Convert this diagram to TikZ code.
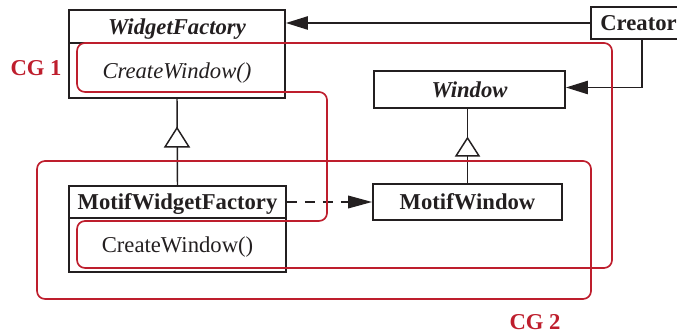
\documentclass[tikz,border=0pt]{standalone}
\usepackage{fontspec}
\setmainfont{Liberation Serif}
\usetikzlibrary{arrows.meta,calc}
\definecolor{cgred}{RGB}{190,30,45}
\definecolor{ink}{RGB}{35,31,32}
\newcommand\diafont{\fontsize{17}{20}\selectfont}
\begin{document}
\begin{tikzpicture}[x=0.75pt,y=-0.75pt,
  font=\diafont,
  box/.style={draw=ink,line width=1.4pt,inner sep=0pt,text=ink,
    text height=12.5pt,text depth=1.2pt},
  link/.style={draw=ink,line width=1.1pt},
  solidtip/.style={-{Triangle[length=16.5pt,width=10pt]}},
  dashtip/.style={-{Triangle[length=18pt,width=9.5pt]}},
  group/.style={draw=cgred,line width=1.25pt,rounded corners=6pt},
  grouplabel/.style={text=cgred,font=\diafont\bfseries}
]
\useasboundingbox (0,0) rectangle (677,334);

% classes
\node[box,minimum width=162pt,minimum height=24.75pt,font=\diafont\bfseries\itshape]
  (wf) at (177,26.5) {WidgetFactory};
\node[box,minimum width=162pt,minimum height=41.25pt,font=\diafont\itshape]
  (wfop) at (177,70.5) {CreateWindow()};
\node[box,minimum width=162.75pt,minimum height=24pt,font=\diafont\bfseries]
  (mwf) at (177.5,202) {MotifWidgetFactory};
\node[box,minimum width=162.75pt,minimum height=40.5pt]
  (mwfop) at (177.5,245) {CreateWindow()};
\node[box,minimum width=143.25pt,minimum height=27.75pt,font=\diafont\bfseries\itshape]
  (win) at (469.5,89.5) {Window};
\node[box,minimum width=141.75pt,minimum height=27pt,font=\diafont\bfseries]
  (mw) at (467.5,202) {MotifWindow};
\node[box,minimum width=71.25pt,minimum height=24pt,font=\diafont\bfseries]
  (cr) at (638.5,23) {Creator};

% associations
\draw[link,solidtip] (cr.west) -- (cr.west -| wf.east);
\draw[link,solidtip] ([xshift=2.6pt]cr.south) |- ([yshift=1.5pt]win.east);
\draw[link,dashtip,dash pattern=on 7.5pt off 6pt] (mwf.east) -- (mw.west);

% inheritance
\draw[link] (wfop.south) -- (mwf.north);
\draw[link,fill=white] ($(wfop.south)+(0,29)$) -- ++(-12,19) -- ++(24,0) -- cycle;
\draw[link] (mw.north) -- (mw.north |- win.south);
\draw[link,fill=white] ($(mw.north |- win.south)+(0,29)$) -- ++(-11.5,18) -- ++(23,0) -- cycle;

% groups
\draw[group] (77,43) -- (612,43) -- (612,268) -- (77,268) -- (77,221)
  -- (327,221) -- (327,92) -- (77,92) -- cycle;
\draw[group] (37,161) rectangle (591,299);
\node[grouplabel] (cg1) at (36,68) {CG 1};
\node[grouplabel] (cg2) at (535,322) {CG 2};
\end{tikzpicture}
\end{document}
